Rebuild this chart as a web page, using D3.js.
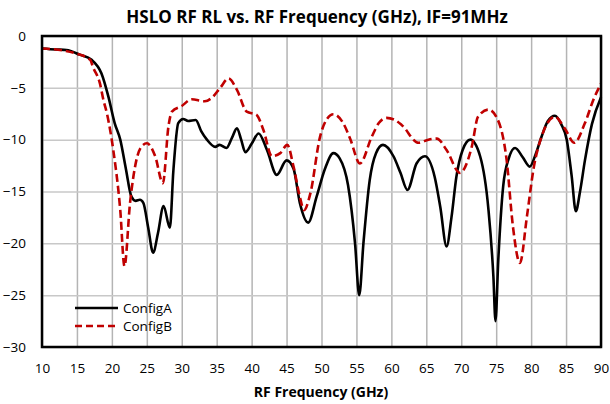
<!DOCTYPE html>
<html>
<head>
<meta charset="utf-8">
<script src="https://cdn.jsdelivr.net/npm/d3@7"></script>
<style>
  body { margin: 0; background: #fff; }
  text { font-family: "Open Sans", "Liberation Sans", sans-serif; }
</style>
</head>
<body>
<div id="chart"></div>
<script>
// tick values
var xTicks = [10, 15, 20, 25, 30, 35, 40, 45, 50, 55, 60, 65, 70, 75, 80, 85, 90];
var yTicks = [0, -5, -10, -15, -20, -25, -30];

// ConfigA  (freq GHz, return loss dB)
var freqA = [10, 12, 13.5, 15.4, 17.1, 18.5, 19.5, 20.4, 21.2, 22, 22.8, 23.4, 24, 24.5, 25.2, 25.9, 26.6, 27.4, 28.3, 28.8,
  29.5, 30.2, 30.9, 32, 32.8, 33.6, 34.8, 35.4, 36.4, 37.2, 37.9, 38.5, 39.1, 40, 41, 42.2, 43.6, 45, 46, 46.9,
  48.1, 49.3, 50.5, 51.7, 52.6, 53.8, 54.8, 55.4, 56, 56.9, 57.8, 58.8, 60.3, 61.3, 62.3, 63.6, 64.8, 66.2, 67, 67.9,
  68.6, 69.3, 70.2, 71.3, 72.7, 73.9, 74.6, 74.9, 75.3, 76, 76.8, 77.7, 78.8, 79.8, 80.6, 81.5, 82.4, 83.4, 84.3, 85.1,
  85.8, 86.4, 87, 87.7, 88.7, 90];
var rlA = [-1.2, -1.3, -1.35, -1.8, -2.3, -3.6, -5.85, -8.4, -10, -12.8, -15.5, -15.9, -15.8, -16.1, -18.5, -20.9, -19, -16.4, -18.5, -13,
  -8.4, -8.0, -8.2, -8.1, -9.2, -10, -10.7, -10.5, -10.8, -9.8, -8.9, -10, -11.2, -10.4, -9.4, -11.0, -13.4, -12.0, -12.8, -16.1,
  -18.0, -15.5, -12.8, -11.3, -11.8, -14.4, -20, -25, -20, -13.9, -11.3, -10.5, -11.6, -13.2, -14.85, -12.3, -11.6, -13.6, -16.5, -20.3,
  -17.5, -13.6, -11, -10.0, -11.6, -16.8, -23.2, -27.5, -21.6, -14.5, -11.8, -10.8, -11.7, -12.6, -11.5, -9.7, -8.2, -7.7, -8.5, -10.0,
  -13.5, -16.9, -15, -12, -8.5, -5.9];

// ConfigB
var freqB = [10, 13, 14.9, 16.9, 17.3, 18.3, 18.8, 19.3, 20.2, 21.2, 21.8, 22.6, 23.5, 24.2, 25, 26.2, 27.3, 28.1, 28.6, 30,
  31.4, 33.3, 34.4, 35.5, 36.7, 37.9, 39.3, 40.7, 41.7, 42.9, 44.1, 45.1, 46, 46.9, 47.5, 48.4, 49.8, 50.6, 51.7, 53.1,
  54.1, 55.5, 57.2, 58.2, 59.3, 60.5, 61.5, 63.9, 65.3, 66.5, 67.9, 69.8, 71.5, 72.4, 73.9, 75.1, 76.5, 77.4, 78.4, 79.4,
  80.4, 81.5, 83.4, 84.8, 86.2, 87.7, 89, 90];
var rlB = [-1.2, -1.4, -1.7, -2.3, -3.0, -4.6, -6.2, -7.5, -11, -16.8, -22.2, -16.1, -12, -10.7, -10.35, -11.6, -14.2, -8.7, -7.3, -6.75,
  -6.1, -6.3, -5.9, -5.0, -4.1, -5.2, -7.3, -7.6, -9.1, -11.6, -11.3, -10.5, -12.6, -15.5, -16.8, -15.2, -9.7, -8.2, -7.55, -8.4,
  -9.9, -12.3, -9.7, -8.4, -7.9, -8.1, -8.6, -10.3, -10.0, -9.9, -11.0, -13.2, -10.7, -7.8, -7.1, -7.9, -12, -18.4, -21.9, -17.4,
  -12.6, -9.7, -7.8, -8.9, -10.3, -8.4, -6, -4.6];

var seriesNames = ["ConfigA", "ConfigB"];

var width = 610, height = 404;
var plotL = 42, plotR = 601, plotT = 36, plotB = 347;

var svg = d3.select("#chart").append("svg")
  .attr("width", width).attr("height", height);

var x = d3.scaleLinear().domain([10, 90]).range([plotL, plotR]);
var y = d3.scaleLinear().domain([-30, 0]).range([plotB, plotT]);

// grid lines
svg.append("g")
  .attr("transform", "translate(0," + plotB + ")")
  .call(d3.axisBottom(x).tickValues(xTicks).tickSize(-(plotB - plotT)).tickFormat(""))
  .call(function(g) { g.select(".domain").remove(); })
  .selectAll("line").attr("stroke", "#b4b4b4").attr("stroke-width", 1.5);
svg.append("g")
  .attr("transform", "translate(" + plotL + ",0)")
  .call(d3.axisLeft(y).tickValues(yTicks).tickSize(-(plotR - plotL)).tickFormat(""))
  .call(function(g) { g.select(".domain").remove(); })
  .selectAll("line").attr("stroke", "#c8c8c8").attr("stroke-width", 1.5);

// tick labels
var xl = svg.append("g")
  .attr("transform", "translate(0," + (plotB + 13) + ")")
  .call(d3.axisBottom(x).tickValues(xTicks).tickSize(0).tickFormat(d3.format("d")));
xl.select(".domain").remove();
xl.selectAll("text").attr("font-size", 13.5).attr("fill", "#000")
  .attr("font-family", "'Open Sans', sans-serif");

var yl = svg.append("g")
  .attr("transform", "translate(" + (plotL - 13) + ",0)")
  .call(d3.axisLeft(y).tickValues(yTicks).tickSize(0).tickFormat(d3.format("d")));
yl.select(".domain").remove();
yl.selectAll("text").attr("font-size", 13.5).attr("fill", "#000")
  .attr("font-family", "'Open Sans', sans-serif");

// curves
var line = d3.line()
  .x(function(d) { return x(d[0]); })
  .y(function(d) { return y(d[1]); })
  .curve(d3.curveMonotoneX);

var dataA = d3.zip(freqA, rlA);
var dataB = d3.zip(freqB, rlB);

svg.append("path").datum(dataA)
  .attr("d", line).attr("fill", "none")
  .attr("stroke", "#000").attr("stroke-width", 2.6)
  .attr("stroke-linejoin", "round");

svg.append("path").datum(dataB)
  .attr("d", line).attr("fill", "none")
  .attr("stroke", "#c00000").attr("stroke-width", 2.6)
  .attr("stroke-dasharray", "8,4");

// plot frame
svg.append("rect")
  .attr("x", plotL).attr("y", plotT)
  .attr("width", plotR - plotL).attr("height", plotB - plotT)
  .attr("fill", "none").attr("stroke", "#000").attr("stroke-width", 2.5);

// legend
var legend = svg.append("g");
seriesNames.forEach(function(name, i) {
  var ly = 308 + i * 18;
  legend.append("line")
    .attr("x1", 75).attr("x2", 118).attr("y1", ly).attr("y2", ly)
    .attr("stroke", i == 0 ? "#000" : "#c00000")
    .attr("stroke-width", 2.6)
    .attr("stroke-dasharray", i == 0 ? null : "7,4");
  legend.append("text")
    .attr("x", 123).attr("y", ly).attr("dy", "0.35em")
    .attr("font-size", 13.5).text(name);
});

// titles
svg.append("text")
  .attr("x", 317).attr("y", 23)
  .attr("text-anchor", "middle")
  .attr("font-size", 17).attr("font-weight", "bold")
  .text("HSLO RF RL vs. RF Frequency (GHz), IF=91MHz");

svg.append("text")
  .attr("x", 321).attr("y", 397)
  .attr("text-anchor", "middle")
  .attr("font-size", 14).attr("font-weight", "bold")
  .text("RF Frequency (GHz)");
</script>
</body>
</html>
